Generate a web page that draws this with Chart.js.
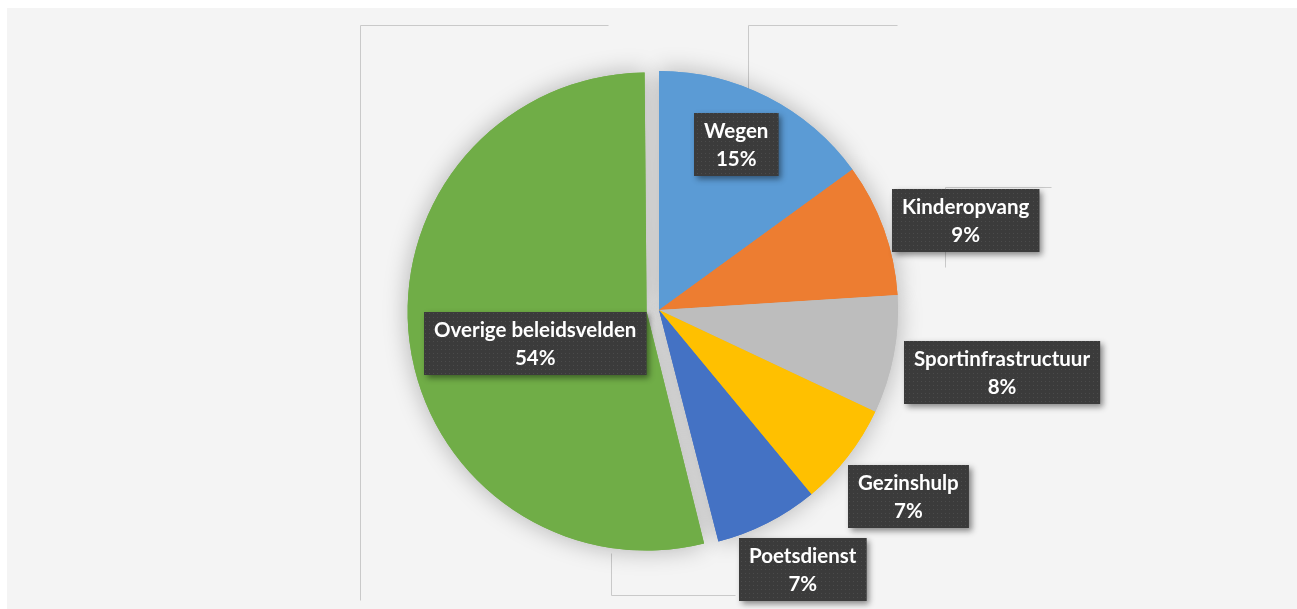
<!DOCTYPE html>
<html lang="nl">
<head>
    <meta charset="UTF-8">
    <title>Verdeling per beleidsveld</title>
    <script src="https://cdn.jsdelivr.net/npm/chart.js"></script>
    <style>
        body {
            margin: 0;
            background: #ffffff;
        }
        .panel {
            position: absolute;
            left: 7px;
            top: 8px;
            width: 1290px;
            height: 601px;
            background: #f4f4f4;
        }
        .chart-box {
            position: absolute;
            left: 0;
            top: 0;
            width: 1297px;
            height: 609px;
        }
    </style>
</head>
<body>
    <div class="panel"></div>
    <div class="chart-box">
        <canvas id="pieChart"></canvas>
    </div>

    <script>
        // chart data
        const categories = ['Wegen', 'Kinderopvang', 'Sportinfrastructuur', 'Gezinshulp', 'Poetsdienst', 'Overige beleidsvelden'];
        const shares = [15, 9, 8, 7, 7, 54];
        const sliceColors = ['#5b9bd5', '#ed7d31', '#bdbdbd', '#ffc000', '#4472c4', '#70ad47'];
        const sliceOffsets = [0, 0, 0, 0, 0, 50];

        // dark dotted texture for the label boxes
        function makePattern(ctx) {
            let c = document.createElement('canvas');
            c.width = 4;
            c.height = 4;
            let p = c.getContext('2d');
            p.fillStyle = '#3b3b3b';
            p.fillRect(0, 0, 4, 4);
            p.fillStyle = '#4b4b4b';
            p.fillRect(1, 1, 1, 1);
            return ctx.createPattern(c, 'repeat');
        }

        // leftover frame lines of the original chart
        const frameLines = {
            id: 'frameLines',
            beforeDraw(chart, args, opts) {
                let ctx = chart.ctx;
                ctx.save();
                ctx.strokeStyle = '#c9c9c9';
                ctx.lineWidth = 1;
                opts.lines.forEach(l => {
                    ctx.beginPath();
                    ctx.moveTo(l[0] + 0.5, l[1] + 0.5);
                    ctx.lineTo(l[2] + 0.5, l[3] + 0.5);
                    ctx.stroke();
                });
                ctx.restore();
            }
        };

        // keep the exploded slice at the same radius, and draw the soft shadow
        const pieShadow = {
            id: 'pieShadow',
            afterDatasetsUpdate(chart) {
                let meta = chart.getDatasetMeta(0);
                meta.data.forEach((arc, i) => {
                    arc.outerRadius = meta.controller.outerRadius - sliceOffsets[i] / 4;
                });
            },
            beforeDatasetsDraw(chart) {
                let ctx = chart.ctx;
                ctx.save();
                ctx.shadowColor = 'rgba(0,0,0,0.28)';
                ctx.shadowBlur = 24;
                chart.getDatasetMeta(0).data.forEach(arc => arc.draw(ctx));
                ctx.restore();
            }
        };

        const boxLabels = {
            id: 'boxLabels',
            afterDatasetsDraw(chart, args, opts) {
                let ctx = chart.ctx;
                let meta = chart.getDatasetMeta(0);
                let R = meta.controller.outerRadius;
                let pattern = makePattern(ctx);
                ctx.save();
                ctx.font = 'bold 20.5px Lato';
                ctx.textAlign = 'center';
                ctx.textBaseline = 'middle';
                meta.data.forEach((arc, i) => {
                    let half = (arc.startAngle + arc.endAngle) / 2;
                    let shift = sliceOffsets[i] / 4;
                    let cx = arc.x + Math.cos(half) * shift;
                    let cy = arc.y + Math.sin(half) * shift;
                    let place = opts.placement[i];
                    let ang = half + place.turn * Math.PI / 180;
                    let px = cx + Math.cos(ang) * place.dist * R;
                    let py = cy + Math.sin(ang) * place.dist * R;

                    let line1 = categories[i];
                    let line2 = shares[i] + '%';
                    let w = Math.max(ctx.measureText(line1).width, ctx.measureText(line2).width) + 20;
                    let h = 63;
                    let x0 = Math.round(px - w / 2);
                    let y0 = Math.round(py - h / 2);

                    ctx.save();
                    ctx.shadowColor = 'rgba(0,0,0,0.45)';
                    ctx.shadowBlur = 6;
                    ctx.shadowOffsetX = 3;
                    ctx.shadowOffsetY = 3;
                    ctx.fillStyle = '#3b3b3b';
                    ctx.fillRect(x0, y0, w, h);
                    ctx.restore();
                    ctx.fillStyle = pattern;
                    ctx.fillRect(x0, y0, w, h);

                    ctx.fillStyle = '#ffffff';
                    ctx.fillText(line1, x0 + w / 2, y0 + h / 2 - 13);
                    ctx.fillText(line2, x0 + w / 2, y0 + h / 2 + 15);
                });
                ctx.restore();
            }
        };

        let ctx = document.getElementById('pieChart').getContext('2d');

        let chart = new Chart(ctx, {
            type: 'pie',
            data: {
                labels: categories,
                datasets: [{
                    data: shares,
                    backgroundColor: sliceColors,
                    offset: sliceOffsets,
                    borderWidth: 0
                }]
            },
            options: {
                responsive: true,
                maintainAspectRatio: false,
                animation: false,
                radius: 239,
                layout: {
                    padding: { left: 21, top: 11, right: 0, bottom: 0 }
                },
                plugins: {
                    legend: { display: false },
                    tooltip: { enabled: false },
                    frameLines: {
                        lines: [
                            [360, 25, 360, 600], [360, 25, 608, 25],
                            [748, 25, 748, 180], [748, 25, 897, 25],
                            [945, 187, 1051, 187], [945, 187, 945, 267],
                            [611, 553, 611, 595], [611, 595, 735, 595]
                        ]
                    },
                    boxLabels: {
                        placement: [
                            { dist: 0.766, turn: -2 },
                            { dist: 1.335, turn: 3.6 },
                            { dist: 1.46, turn: -0.4 },
                            { dist: 1.305, turn: -1 },
                            { dist: 1.243, turn: -2 },
                            { dist: 0.483, turn: -8.8 }
                        ]
                    }
                }
            },
            plugins: [frameLines, pieShadow, boxLabels]
        });
    </script>
</body>
</html>
